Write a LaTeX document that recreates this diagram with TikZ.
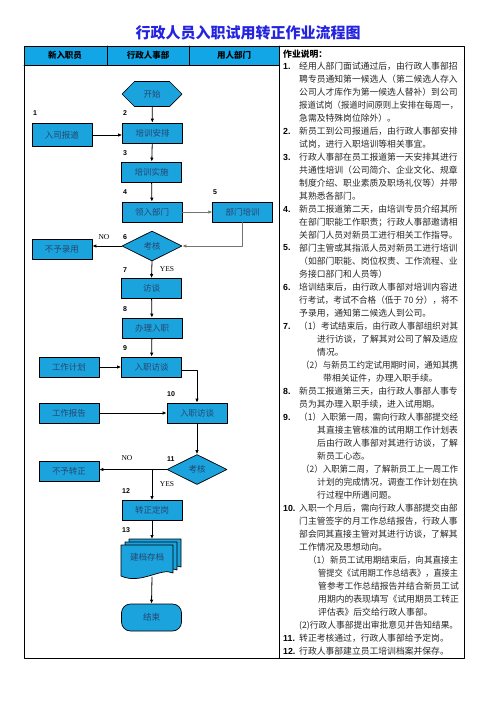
\documentclass[tikz,border=0pt]{standalone}
\usepackage{fontspec}
\setmainfont{Liberation Serif}
\newfontfamily\cjk{Noto Sans CJK SC}
\newfontfamily\numfont{Liberation Sans}
\usetikzlibrary{positioning,shapes.geometric,shapes.misc,arrows.meta}
\definecolor{FlowBlue}{HTML}{1BA3DD}
\definecolor{HeadBlue}{HTML}{12A6E6}
\definecolor{TitleBlue}{HTML}{2424E0}
\definecolor{BoxText}{HTML}{27466F}
\newcommand\fitline[2]{\resizebox{#1pt}{\height}{#2}}

\begin{document}
\begin{tikzpicture}[x=1pt,y=-1pt,line cap=round,line join=round,
  flowbox/.style={draw,line width=0.7pt,fill=FlowBlue,minimum width=60pt,minimum height=20pt,
    inner sep=0pt,font=\cjk\fontsize{8.5}{9}\selectfont,text=BoxText},
  decision/.style={flowbox,diamond,aspect=2,minimum height=30pt},
  hexbox/.style={flowbox,chamfered rectangle,chamfered rectangle xsep=8pt,chamfered rectangle ysep=10pt},
  headlabel/.style={font=\cjk\bfseries\fontsize{8.5}{9}\selectfont},
  stepnum/.style={anchor=west,inner sep=0pt,font=\numfont\bfseries\fontsize{7}{7}\selectfont},
  yesno/.style={inner sep=0pt,font=\fontsize{7.5}{8}\selectfont},
  flow/.style={-{Latex[length=4pt,width=3.5pt]},line width=0.8pt},
  greyflow/.style={flow,draw=black!55},
  notenum/.style={anchor=west,inner sep=0pt,font=\numfont\bfseries\fontsize{8.8}{13}\selectfont},
  notetext/.style={anchor=north west,inner sep=0pt,align=left,text=black!85,
    font=\cjk\fontsize{8.8}{13}\selectfont},
  docsheet/.pic={\filldraw[fill=FlowBlue,line width=0.7pt]
    (0,0) -- (52,0) -- (52,28) .. controls (40,22) and (20,40) .. (0,31) -- cycle;}]
  \useasboundingbox (0,0) rectangle (496,702);

  % title and table frame
  \node[font=\cjk\bfseries\fontsize{15}{15}\selectfont,text=TitleBlue] (title) at (248,33) {行政人员入职试用转正作业流程图};
  \fill[HeadBlue] (24,46) rectangle (279,65);
  \draw[line width=1pt] (24,46) rectangle (464,658);
  \draw[line width=1pt] (279,46) -- (279,658);
  \draw[line width=0.8pt] (24,65) -- (279,65) (107,46) -- (107,65) (189,46) -- (189,65);
  \node[headlabel] (lane1) at (65,55.5) {新入职员};
  \node[headlabel] (lane2) at (148,55.5) {行政人事部};
  \node[headlabel] (lane3) at (234,55.5) {用人部门};

  % flow nodes
  \node[hexbox] (start) at (152,94) {开始};
  \node[flowbox,minimum height=23pt] (rsbd) at (62,135) {入司报道};
  \node[flowbox] (pxap) at (152.5,133) {培训安排};
  \node[flowbox] (pxss) at (151.5,172) {培训实施};
  \node[flowbox] (lrbm) at (152,212) {领入部门};
  \node[flowbox,right=30pt of lrbm] (bmpx) {部门培训};
  \node[decision] (kh1) at (152,246) {考核};
  \node[flowbox] (bylu) at (62,249) {不予录用};
  \node[flowbox] (ft) at (151.5,288.5) {访谈};
  \node[flowbox] (blrz) at (152,328) {办理入职};
  \node[flowbox] (rzft1) at (151.5,367) {入职访谈};
  \node[flowbox] (gzjh) at (69,367) {工作计划};
  \node[flowbox] (rzft2) at (197,413) {入职访谈};
  \node[flowbox] (gzbg) at (69,413) {工作报告};
  \node[decision] (kh2) at (197,469.5) {考核};
  \node[flowbox] (bzzz) at (69,471.5) {不予转正};
  \node[flowbox] (zzdg) at (152,510.5) {转正定岗};
  \pic at (129,539) {docsheet};
  \pic at (125,542) {docsheet};
  \pic at (121,545) {docsheet};
  \coordinate (dtop) at (152,539);
  \coordinate (dbot) at (152,577);
  \node[font=\cjk\fontsize{8.5}{9}\selectfont,text=BoxText,inner sep=0pt] (jdcd) at (147,557) {建档存档};
  \node[flowbox,minimum height=27pt,rounded corners=9pt] (js) at (151.5,617.5) {结束};

  % step numbers
  \node[stepnum] at (33,113) {1};
  \node[stepnum] at (123,113) {2};
  \node[stepnum] at (123,153) {3};
  \node[stepnum] at (123,192) {4};
  \node[stepnum] at (213,192) {5};
  \node[stepnum] at (123,237) {6};
  \node[stepnum] at (123,270) {7};
  \node[stepnum] at (123,309) {8};
  \node[stepnum] at (123,348) {9};
  \node[stepnum] at (167,394) {10};
  \node[stepnum] at (167,459) {11};
  \node[stepnum] at (122,491) {12};
  \node[stepnum] at (122,530) {13};
  \node[yesno] at (104,237) {NO};
  \node[yesno] at (167,269) {YES};
  \node[yesno] at (127,458) {NO};
  \node[yesno] at (167,484) {YES};

  % connectors
  \draw[flow] (start) -- (pxap);
  \draw[flow] (rsbd.east) -- (rsbd.east -| pxap.west);
  \draw[flow] (pxap) -- (pxss);
  \draw[flow] (pxss) -- (lrbm);
  \draw[greyflow] (lrbm) -- (bmpx);
  \draw[greyflow] (bmpx.south) |- (kh1.east);
  \draw[flow] (kh1.west) -- (kh1.west -| bylu.east);
  \draw[flow] (kh1.south) -- (ft.north);
  \draw[flow] (ft) -- (blrz);
  \draw[flow] (blrz) -- (rzft1);
  \draw[flow] (gzjh) -- (rzft1);
  \draw[flow] ([yshift=-3pt]rzft1.east) -| (rzft2.north);
  \draw[flow] (gzbg) -- (rzft2);
  \draw[flow] (rzft2.south) -- (kh2.north);
  \draw[flow] (kh2.west) -- (kh2.west -| bzzz.east);
  \draw[flow] (kh2.west -| zzdg.north) -- (zzdg.north);
  \draw[flow] (zzdg.south) -- (dtop);
  \draw[flow] (dbot) -- (js.north);

  % notes column
  \node[anchor=west,inner sep=0pt,font=\cjk\bfseries\fontsize{8.8}{9}\selectfont] (notehead) at (283,54) {作业说明：};
  \node[notenum] at (283,66) {1.};
  \node[notetext] (note1) at (299,61.6) {经用人部门面试通过后，由行政人事部招\\聘专员通知第一候选人（第二候选人存入\\公司人才库作为第一候选人替补）到公司\\\fitline{159}{报道试岗（报道时间原则上安排在每周一，}\\急需及特殊岗位除外）。};
  \node[notenum] at (283,131) {2.};
  \node[notetext] (note2) at (299,126.6) {新员工到公司报道后，由行政人事部安排\\试岗，进行入职培训等相关事宜。};
  \node[notenum] at (283,157) {3.};
  \node[notetext] (note3) at (299,152.6) {行政人事部在员工报道第一天安排其进行\\共通性培训（公司简介、企业文化、规章\\制度介绍、职业素质及职场礼仪等）并带\\其熟悉各部门。};
  \node[notenum] at (283,209) {4.};
  \node[notetext] (note4) at (299,204.6) {新员工报道第二天，由培训专员介绍其所\\在部门职能工作职责；行政人事部邀请相\\关部门人员对新员工进行相关工作指导。};
  \node[notenum] at (283,248) {5.};
  \node[notetext] (note5) at (299,243.6) {部门主管或其指派人员对新员工进行培训\\（如部门职能、岗位权责、工作流程、业\\务接口部门和人员等）};
  \node[notenum] at (283,287) {6.};
  \node[notetext] (note6) at (299,282.6) {培训结束后，由行政人事部对培训内容进\\\fitline{159}{行考试，考试不合格（低于 70 分），将不}\\予录用，通知第二候选人到公司。};
  \node[notenum] at (283,326) {7.};
  \node[notetext] (note7) at (299,321.6) {\fitline{159}{（1）考试结束后，由行政人事部组织对其}\\\hspace*{18pt}进行访谈，了解其对公司了解及适应\\\hspace*{18pt}情况。\\\hspace*{2pt}\fitline{157}{（2）与新员工约定试用期时间，通知其携}\\\hspace*{24pt}带相关证件，办理入职手续。};
  \node[notenum] at (283,391) {8.};
  \node[notetext] (note8) at (299,386.6) {新员工报道第三天，由行政人事部人事专\\员为其办理入职手续，进入试用期。};
  \node[notenum] at (283,417) {9.};
  \node[notetext] (note9) at (299,412.6) {\fitline{159}{（1）入职第一周，需向行政人事部提交经}\\\hspace*{18pt}其直接主管核准的试用期工作计划表\\\hspace*{18pt}后由行政人事部对其进行访谈，了解\\\hspace*{18pt}新员工心态。\\\hspace*{2pt}\fitline{157}{（2）入职第二周，了解新员工上一周工作}\\\hspace*{18pt}计划的完成情况，调查工作计划在执\\\hspace*{18pt}行过程中所遇问题。};
  \node[notenum] at (283,508) {10.};
  \node[notetext] (note10) at (299,503.6) {入职一个月后，需向行政人事部提交由部\\门主管签字的月工作总结报告，行政人事\\部会同其直接主管对其进行访谈，了解其\\工作情况及思想动向。\\\hspace*{9pt}\fitline{150}{（1）新员工试用期结束后，向其直接主}\\\hspace*{19pt}\fitline{140}{管提交《试用期工作总结表》，直接主}\\\hspace*{19pt}管参考工作总结报告并结合新员工试\\\hspace*{19pt}用期内的表现填写《试用期员工转正\\\hspace*{19pt}评估表》后交给行政人事部。\\\fitline{159}{(2)行政人事部提出审批意见并告知结果。}};
  \node[notenum] at (283,638) {11.};
  \node[notetext] (note11) at (299,633.6) {转正考核通过，行政人事部给予定岗。};
  \node[notenum] at (283,651) {12.};
  \node[notetext] (note12) at (299,646.6) {行政人事部建立员工培训档案并保存。};
\end{tikzpicture}
\end{document}
